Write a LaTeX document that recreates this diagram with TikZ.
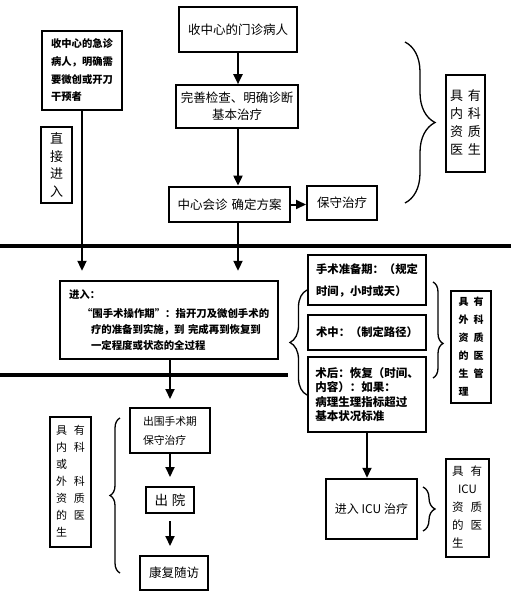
\documentclass[tikz,border=0pt]{standalone}
\usepackage{fontspec}
\setmainfont{Noto Sans CJK SC}
\usetikzlibrary{arrows.meta,decorations.pathreplacing}
\tikzset{
  box/.style={draw, line width=1.6pt, inner sep=0pt, align=center},
  tbox/.style={draw, line width=2.8pt, inner sep=0pt, align=center},
  arr/.style={-{Triangle[length=10pt,width=9pt]}, line width=2pt},
  brc/.style={decorate, decoration={brace,amplitude=#1}, line width=1.3pt},
  sepline/.style={line width=3.2pt},
}
\begin{document}
\begin{tikzpicture}[x=1pt,y=-1pt]
\fill[white] (0,0) rectangle (511,594);
\useasboundingbox (0,0) rectangle (511,594);
\coordinate (cx) at (238,0);

% top part
\node[box, minimum width=118pt, minimum height=45pt, font=\fontsize{12.5}{16}\selectfont] (top) at (238,29.5) {收中心的门诊病人};
\node[box, minimum width=122pt, minimum height=43pt, font=\fontsize{12.5}{17}\selectfont] (exam) at (237,106.5) {完善检查、明确诊断\\基本治疗};
\node[tbox, minimum width=121pt, minimum height=35pt, font=\fontsize{12.5}{16}\selectfont] (consult) at (229.5,204.5) {中心会诊\hspace{4pt}确定方案};
\node[box, line width=2pt, minimum width=70pt, minimum height=34pt, font=\fontsize{12.5}{16}\selectfont] (conserv) at (342,203) {保守治疗};
\node[tbox, minimum width=39pt, minimum height=97pt, font=\fontsize{13}{18}\selectfont] (neike) at (465.5,123.5)
  {\begin{tabular}{@{}c@{\hspace{5pt}}c@{}}具&有\\内&科\\资&质\\医&生\end{tabular}};
\draw[brc=30pt] (405,42) -- (405,203);

\node[box, line width=2pt, minimum width=80pt, minimum height=79pt, align=left, font=\bfseries\fontsize{10.3}{17.7}\selectfont] (emerg) at (82,70.5)
  {收中心的急诊\\病人，明确需\\要微创或开刀\\干预者};
\node[box, line width=2pt, minimum width=31pt, minimum height=76pt, font=\fontsize{13}{17.5}\selectfont] (zhijie) at (56.5,165) {直\\接\\进\\入};

\draw[arr] (top.south) -- (top.south |- exam.north);
\draw[arr] (exam.south -| cx) -- (consult.north -| cx);
\draw[arr] (consult.east) -- (consult.east -| conserv.west);

% separator lines
\draw[sepline] (0,246) -- (511,246);
\draw[sepline] (0,375) -- (288,375);

% middle part
\node[box, line width=2.4pt, minimum width=218pt, minimum height=78pt, text width=200pt, align=left, font=\bfseries\fontsize{10.4}{16}\selectfont] (periop) at (169,320)
  {进入：\\[3pt]\hspace*{13pt}“围手术操作期”：指开刀及微创手术的\\\hspace*{22pt}疗的准备到实施，到 完成再到恢复到\\\hspace*{22pt}一定程度或状态的全过程};
\draw[arr, shorten >=9pt] (emerg.south) -- (emerg.south |- periop.north);
\draw[arr, shorten >=9pt] (consult.south -| cx) -- (periop.north -| cx);

\node[tbox, line width=2.4pt, minimum width=118pt, minimum height=50pt, align=left, font=\bfseries\fontsize{11.3}{22}\selectfont] (prep) at (367,280)
  {手术准备期：（规定\\时间，小时或天）};
\node[tbox, minimum width=118pt, minimum height=35pt, align=left, font=\bfseries\fontsize{11.3}{16}\selectfont] (mid) at (367,332.5)
  {术中：（制定路径）};
\node[tbox, minimum width=118pt, minimum height=75pt, align=left, font=\bfseries\fontsize{11.5}{14.5}\selectfont] (post) at (367,394.5)
  {术后：恢复（时间、\\内容）：如果：\\病理生理指标超过\\基本状况标准};
\draw[brc=17pt] (307,395) -- (307,290);
\draw[decorate, decoration={brace,amplitude=10pt,aspect=0.64}, line width=1.3pt] (433,282) -- (433,378);
\node[box, line width=2.4pt, minimum width=40pt, minimum height=112pt, font=\bfseries\fontsize{10}{18}\selectfont] (waike) at (471,347)
  {\begin{tabular}{@{}c@{\hspace{5pt}}c@{}}具&有\\外&科\\资&质\\的&医\\生&管\\理&\end{tabular}};

% ICU
\node[tbox, line width=2.5pt, minimum width=91pt, minimum height=60pt, font=\fontsize{12}{16}\selectfont] (icu) at (371.5,509) {进入 ICU 治疗};
\draw[arr] (post.south) -- (post.south |- icu.north);
\draw[brc=12pt] (423,487) -- (423,531);
\node[box, line width=2pt, minimum width=43pt, minimum height=98pt, font=\fontsize{11.5}{18}\selectfont] (icudoc) at (467.5,508)
  {\begin{tabular}{@{}c@{\hspace{6.5pt}}c@{}}具&有\\\multicolumn{2}{c}{ICU}\\资&质\\的&医\\生&\end{tabular}};

% bottom part
\node[box, line width=2pt, minimum width=80pt, minimum height=45pt, align=left, font=\fontsize{10.8}{19}\selectfont] (chuwei) at (170,430.5)
  {出围手术期\\保守治疗};
\draw[arr, shorten >=8pt] (periop.south -| chuwei.north) -- (chuwei.north);
\node[box, line width=2pt, minimum width=48pt, minimum height=26pt, font=\fontsize{13.5}{16}\selectfont] (chuyuan) at (170,500) {出\hspace{4pt}院};
\draw[arr, shorten >=9pt] (chuwei.south) -- (chuyuan.north);
\node[box, line width=2pt, minimum width=68pt, minimum height=34pt, font=\fontsize{12.5}{16}\selectfont] (kangfu) at (174,573) {康复随访};
\draw[arr, shorten <=7pt, shorten >=9pt] (chuyuan.south) -- (chuyuan.south |- kangfu.north);
\draw[brc=10pt] (120,573) -- (120,418);
\node[box, line width=2pt, minimum width=41pt, minimum height=130pt, font=\fontsize{11}{17}\selectfont] (neiwai) at (70.5,482)
  {\begin{tabular}{@{}c@{\hspace{7pt}}c@{}}具&有\\内&科\\或&\\外&科\\资&质\\的&医\\生&\end{tabular}};
\end{tikzpicture}
\end{document}
